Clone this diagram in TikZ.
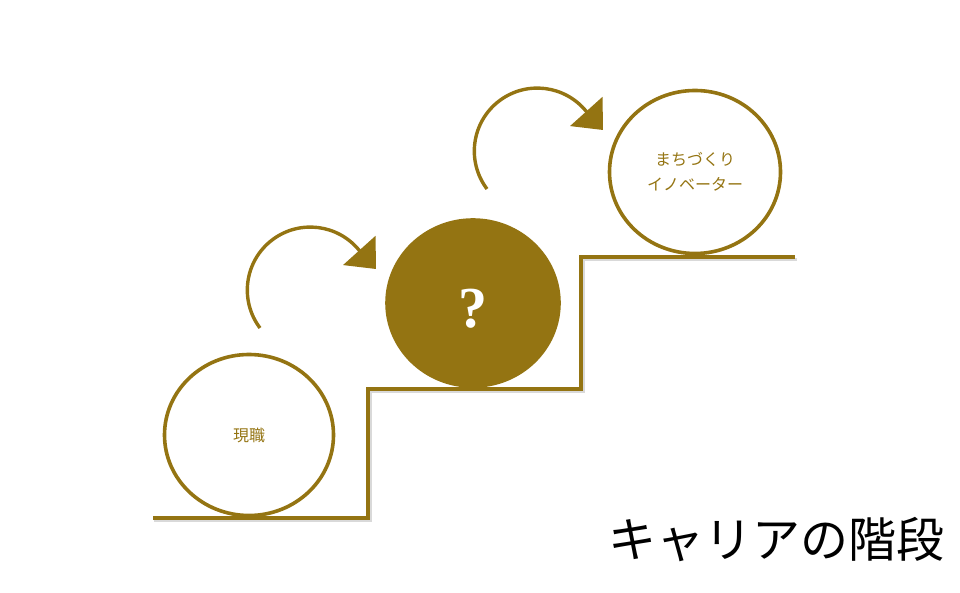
\documentclass[tikz,border=0pt]{standalone}
\usepackage{fontspec}
\newfontfamily\jp{Noto Sans CJK JP}
\newfontfamily\qmark{Liberation Serif}
\usetikzlibrary{shapes.geometric, arrows.meta}
\definecolor{gold}{RGB}{148,116,18}

\begin{document}
\begin{tikzpicture}[x=1pt, y=1pt,
    ball/.style={ellipse, draw=gold, line width=3.6pt, inner sep=0pt,
                 font=\jp\fontsize{16}{25}\selectfont, text=gold, align=center},
    hop/.style={draw=gold, line width=3.4pt, -{Triangle[length=25pt, width=43pt]}}]
        \useasboundingbox (0,0) rectangle (960,593);
        % stairs, with a soft shadow
        \draw[gray!30, line width=3pt] (154,72) -- (370,72) -- (370,201) -- (583,201)
            -- (583,333) -- (797,333);
        \draw[gold, line width=3.2pt] (153,75) -- (368,75) -- (368,204) -- (581,204)
            -- (581,336) -- (795,336);
        % the three balls
        \node[ball, minimum width=169pt, minimum height=161pt] (now) at (249,158) {現職};
        \node[ball, fill=gold, minimum width=172pt, minimum height=166pt] (unknown) at (473,290)
            {\raisebox{-25pt}[0pt][0pt]{\qmark\bfseries\color{white}\fontsize{58}{60}\selectfont ?}};
        \node[ball, minimum width=171pt, minimum height=163pt] (goal) at (695,421)
            {まちづくり\\イノベーター};
        % curved hops between the steps
        \coordinate (hopA) at (260,265);
        \coordinate (hopB) at (487,404);
        \draw[hop] (hopA) arc[start angle=217, end angle=39, radius=63] -- ++(-48:25);
        \draw[hop] (hopB) arc[start angle=217, end angle=39, radius=63] -- ++(-48:25);
        % title
        \node[font=\jp\fontsize{48}{50}\selectfont] (title) at (776,53) {キャリアの階段};
    \end{tikzpicture}
\end{document}
